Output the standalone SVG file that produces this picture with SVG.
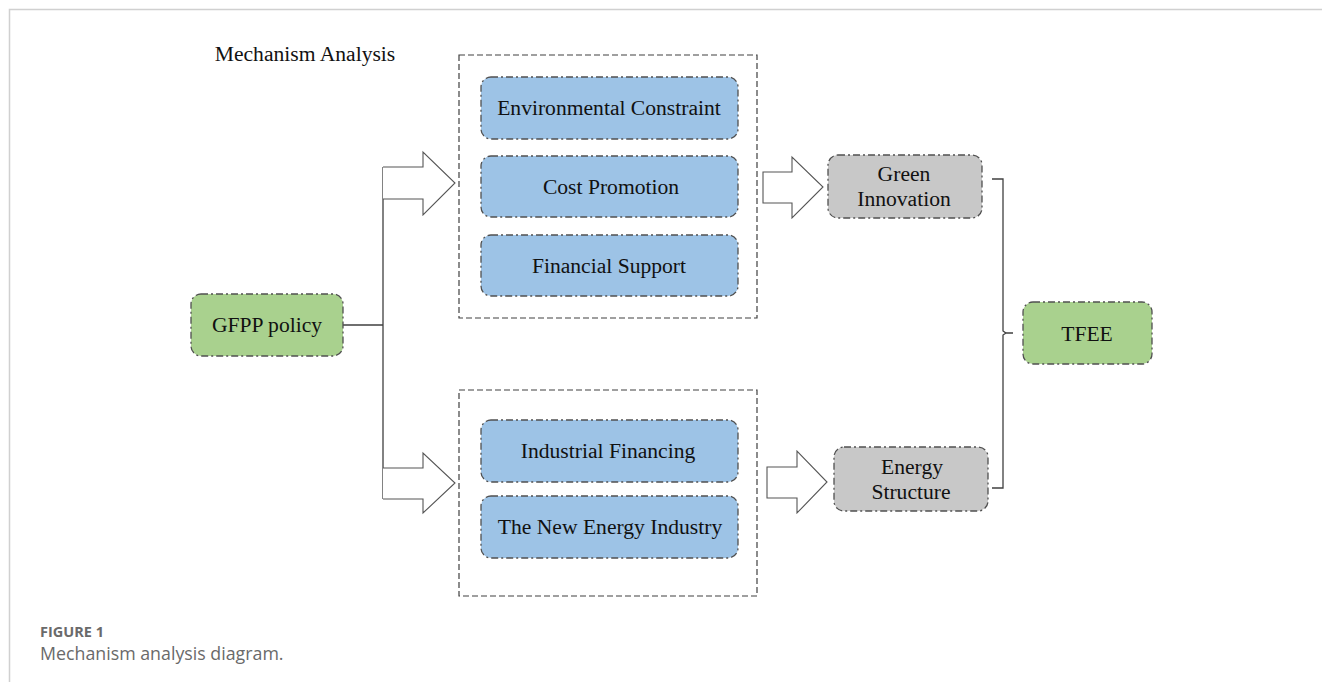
<svg xmlns="http://www.w3.org/2000/svg" width="1322" height="682" viewBox="0 0 1322 682">
<style>
.t{font-family:"Liberation Serif","Times New Roman",serif;font-size:21.6px;fill:#111;text-anchor:middle}
.node{stroke:#505050;stroke-width:1.3;stroke-dasharray:7,3,2,3}
.blue{fill:#9dc3e6}
.green{fill:#a9d18e}
.gray{fill:#c8c8c8}
.group{fill:none;stroke:#404040;stroke-width:1.2;stroke-dasharray:6,3}
.conn{fill:none;stroke:#404040;stroke-width:1.3}
.barrow{fill:#fff;stroke:#555;stroke-width:1.1}
</style>
<rect width="1322" height="682" fill="#fff"/>
<path d="M9.5 682V9.5H1322" fill="none" stroke="#d0d0d0" stroke-width="1.5"/>
<text x="305" y="61" class="t">Mechanism Analysis</text>

<g id="groups">
<rect x="459" y="55" width="298" height="263" class="group"/>
<rect x="459" y="390" width="298" height="206" class="group"/>
</g>

<g id="connectors">
<path class="conn" d="M343 325H383M383 167V499"/>
<path class="barrow" d="M383 167H423V152L455 183L423 215V199H383"/>
<path class="barrow" d="M383 468H423V453L455 483L423 513V499H383"/>
<path class="barrow" d="M763 172H792V157L823 187L792 218V203H763Z"/>
<path class="barrow" d="M767 467H797V451L827 482L797 513V498H767Z"/>
<path class="conn" d="M992 179H1003V331L1006 333H1013M1006 333L1003 335V488H992"/>
</g>

<g id="n-env"><rect x="481" y="77" width="257" height="62" rx="10" class="node blue"/><text x="609" y="115" class="t">Environmental Constraint</text></g>
<g id="n-cost"><rect x="481" y="156" width="257" height="61" rx="10" class="node blue"/><text x="611" y="194" class="t">Cost Promotion</text></g>
<g id="n-fin"><rect x="481" y="235" width="257" height="61" rx="10" class="node blue"/><text x="609" y="273" class="t">Financial Support</text></g>
<g id="n-ind"><rect x="481" y="420" width="257" height="62" rx="10" class="node blue"/><text x="608" y="458" class="t">Industrial Financing</text></g>
<g id="n-new"><rect x="481" y="496" width="257" height="62" rx="10" class="node blue"/><text x="610" y="534" class="t">The New Energy Industry</text></g>
<g id="n-gfpp"><rect x="191" y="294" width="152" height="62" rx="10" class="node green"/><text x="267" y="332" class="t">GFPP policy</text></g>
<g id="n-green"><rect x="828" y="155" width="154" height="63" rx="10" class="node gray"/><text x="904" y="181" class="t">Green</text><text x="904" y="206" class="t">Innovation</text></g>
<g id="n-energy"><rect x="834" y="447" width="154" height="64" rx="10" class="node gray"/><text x="912" y="474" class="t">Energy</text><text x="911" y="499" class="t">Structure</text></g>
<g id="n-tfee"><rect x="1023" y="302" width="129" height="62" rx="10" class="node green"/><text x="1087" y="341" class="t">TFEE</text></g>

<text x="40" y="637" style="font-family:'Open Sans',sans-serif;font-size:14.5px;font-weight:bold;fill:#6a6a6a">FIGURE 1</text>
<text x="40" y="660" style="font-family:'Open Sans',sans-serif;font-size:17.8px;fill:#6a6a6a">Mechanism analysis diagram.</text>
</svg>
